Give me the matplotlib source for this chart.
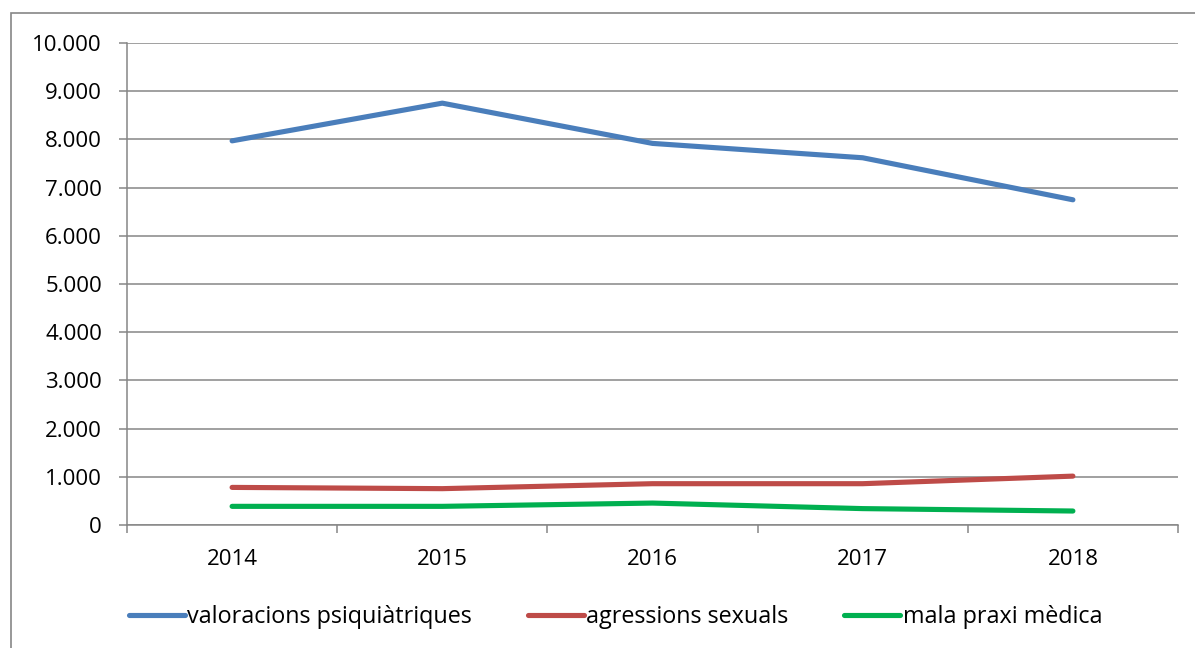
import matplotlib.pyplot as plt
from matplotlib.patches import Rectangle
from matplotlib.ticker import FuncFormatter, FixedLocator

years = ['2014', '2015', '2016', '2017', '2018']
valoracions = [7970, 8752, 7917, 7619, 6747]
agressions = [780, 754, 857, 857, 1014]
mala_praxi = [387, 387, 455, 340, 290]

plt.rcParams['font.family'] = ['Open Sans', 'DejaVu Sans']

fig = plt.figure(figsize=(11.95, 6.48), dpi=100)
W, H = 1195, 648
ax = fig.add_axes([127 / W, 1 - 525 / H, (1178 - 127) / W, (525 - 43) / H])

# outer chart border (extends past right and bottom edges)
fig.patches.append(Rectangle((11 / W, -0.1), 1.2, 1 - 13 / H + 0.1,
                             transform=fig.transFigure, fill=False,
                             edgecolor='#868686', linewidth=1.2))

x = range(len(years))
ax.plot(x, valoracions, color='#4A7EBB', linewidth=3.7,
        solid_capstyle='round', label='valoracions psiquiàtriques')
ax.plot(x, agressions, color='#BE4B48', linewidth=3.7,
        solid_capstyle='round', label='agressions sexuals')
ax.plot(x, mala_praxi, color='#00B050', linewidth=3.7,
        solid_capstyle='round', label='mala praxi mèdica')

ax.set_xlim(-0.5, len(years) - 0.5)
ax.set_ylim(0, 10000)
ax.set_yticks(range(0, 10001, 1000))
ax.yaxis.set_major_formatter(FuncFormatter(lambda v, p: f'{int(v):,}'.replace(',', '.')))
ax.grid(axis='y', color='#868686', linewidth=1.1)
ax.set_axisbelow(True)

# category boundaries as ticks, labels centred
ax.xaxis.set_major_locator(FixedLocator([i - 0.5 for i in range(len(years) + 1)]))
ax.set_xticklabels([])
ax.set_xticks(list(x), minor=True)
ax.set_xticklabels(years, minor=True)
ax.tick_params(axis='x', which='minor', length=0, pad=17, labelsize=16)
ax.tick_params(axis='x', which='major', length=6, color='#868686', width=1.1)
ax.tick_params(axis='y', length=6, color='#868686', width=1.1, labelsize=16, pad=12)

for side in ['top', 'right']:
    ax.spines[side].set_visible(False)
for side in ['left', 'bottom']:
    ax.spines[side].set_color('#868686')
    ax.spines[side].set_linewidth(1.1)

fig.legend(loc='center', bbox_to_anchor=(0.515, 1 - 617 / H), ncol=3,
           frameon=False, fontsize=16.8, handlelength=2.4, handletextpad=0.1,
           columnspacing=2.4)

fig.savefig('out.png', dpi=100)
